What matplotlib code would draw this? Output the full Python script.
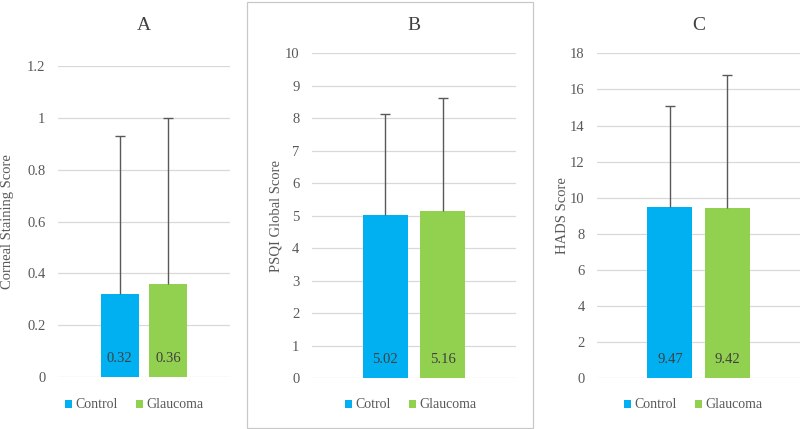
import matplotlib
matplotlib.use("Agg")
import matplotlib.pyplot as plt
from matplotlib.patches import Rectangle, Patch

SERIF = ['Liberation Serif', 'DejaVu Serif']
plt.rcParams['font.family'] = SERIF
plt.rcParams['font.serif'] = ['Liberation Serif', 'DejaVu Serif']

groups = ['Control', 'Glaucoma']
legend_b = ['Cotrol', 'Glaucoma']
colors = ['#00B0F0', '#92D050']

a_means = [0.32, 0.36]
a_sd = [0.61, 0.64]
b_means = [5.02, 5.16]
b_sd = [3.12, 3.46]
c_means = [9.47, 9.42]
c_sd = [5.61, 7.36]

a_ticks = [0, 0.2, 0.4, 0.6, 0.8, 1.0, 1.2]
a_ticklabels = ['0', '0.2', '0.4', '0.6', '0.8', '1', '1.2']
b_ticks = list(range(0, 11))
c_ticks = list(range(0, 19, 2))

W, H = 800, 429
fig = plt.figure(figsize=(W / 100, H / 100), dpi=100)
fig.patch.set_facecolor('white')

# panel B frame
fig.patches.append(Rectangle((247 / W, 1 - 428 / H), (533 - 247) / W, (428 - 2) / H,
                             transform=fig.transFigure, fill=False, edgecolor='#C8C8C8', lw=0.9))

def px_axes(x0, x1, ytop, ybot):
    return fig.add_axes([x0 / W, 1 - ybot / H, (x1 - x0) / W, (ybot - ytop) / H])

panels = [
    dict(box=(58, 230, 66.3, 377.0), means=a_means, sd=a_sd, ylim=1.2, ticks=a_ticks,
         ticklabels=a_ticklabels, title='A', ylabel='Corneal Staining Score',
         ylabel_x=8, legend=groups, legend_x=134, fmt='{:.2f}'),
    dict(box=(312, 516, 53.3, 378.3), means=b_means, sd=b_sd, ylim=10, ticks=b_ticks,
         ticklabels=[str(t) for t in b_ticks], title='B', ylabel='PSQI Global Score',
         ylabel_x=276, legend=legend_b, legend_x=411, fmt='{:.2f}'),
    dict(box=(597, 800, 53.3, 378.3), means=c_means, sd=c_sd, ylim=18, ticks=c_ticks,
         ticklabels=[str(t) for t in c_ticks], title='C', ylabel='HADS Score',
         ylabel_x=562, legend=groups, legend_x=693, fmt='{:.2f}'),
]

pos = [-0.5, 0.5]
for p in panels:
    x0, x1, yt, yb = p['box']
    ax = px_axes(x0, x1, yt, yb)
    ax.set_xlim(-1.77, 1.77)
    ax.set_ylim(0, p['ylim'])
    ax.set_yticks(p['ticks'])
    ax.set_yticklabels(p['ticklabels'], family=SERIF, fontsize=10.5, color='#595959')
    ax.yaxis.grid(True, color='#D9D9D9', lw=0.9)
    ax.set_axisbelow(True)
    for s in ax.spines.values():
        s.set_visible(False)
    ax.tick_params(axis='y', length=0, pad=9)
    ax.set_xticks([])
    ax.bar(pos, p['means'], width=0.78, color=colors, zorder=2)
    tops = [m + s for m, s in zip(p['means'], p['sd'])]
    ax.vlines(pos, p['means'], tops, color='#595959', lw=1.0, zorder=3)
    ax.plot(pos, tops, ls='none', marker='_', ms=7, mew=1.0, color='#595959', zorder=3)
    for xx, m in zip(pos, p['means']):
        ax.annotate(p['fmt'].format(m), (xx, 0), xytext=(0, 9), textcoords='offset points',
                    ha='center', va='bottom', fontsize=10.5, color='#404040', family=SERIF)
    fig.text(((x0 + x1) / 2) / W, 1 - 25 / H, p['title'], ha='center', va='center',
             fontsize=14, color='#404040', family=SERIF)
    fig.text(p['ylabel_x'] / W, 1 - ((yt + yb) / 2) / H, p['ylabel'], rotation=90,
             ha='center', va='center', fontsize=10.5, color='#595959', family=SERIF)
    handles = [Patch(facecolor=c, edgecolor='none') for c in colors]
    fig.legend(handles, p['legend'], loc='center', bbox_to_anchor=(p['legend_x'] / W, 1 - 405 / H),
               ncol=2, frameon=False, prop=dict(family=SERIF, size=10), handlelength=0.5,
               handleheight=0.5, handletextpad=0.25, columnspacing=1.3, labelcolor='#595959')

fig.savefig('out.png', dpi=100, facecolor='white')
